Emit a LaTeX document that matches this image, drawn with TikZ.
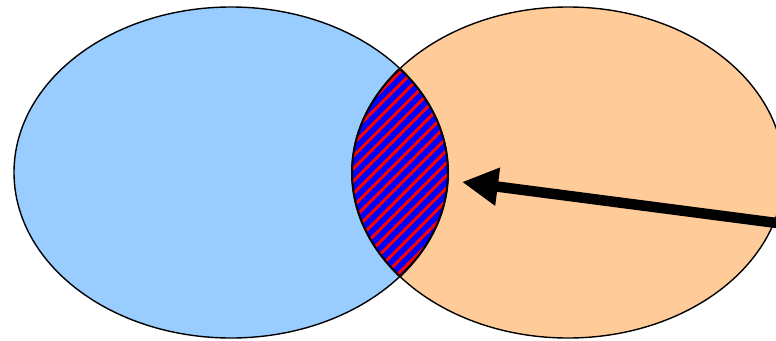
\documentclass[tikz,border=0pt]{standalone}
\usetikzlibrary{arrows.meta}
\definecolor{lblue}{HTML}{99CCFF}
\definecolor{lorange}{HTML}{FFCC99}
\definecolor{hblue}{HTML}{0000FF}
\definecolor{hred}{HTML}{FF0000}
\tikzset{
  outline/.style={draw=black, line width=1.4pt},
  lensline/.style={draw=black, line width=2pt},
  stripe/.style={draw=hred, line width=3pt},
  bigarrow/.style={line width=10.5pt, -{Triangle[length=36pt,width=36pt]}},
}
\begin{document}
\begin{tikzpicture}[x=1pt,y=-1pt]
\useasboundingbox (0,0) rectangle (776,340);
\clip (0,0) rectangle (776,340);
\def\leftell{(231,172.5) ellipse [x radius=217, y radius=165.5]}
\def\rightell{(568,172.5) ellipse [x radius=216, y radius=165.5]}
\fill[lblue] \leftell;
\fill[lorange] \rightell;
\begin{scope}
  \clip \leftell;
  \clip \rightell;
  \fill[hblue] (340,60) rectangle (460,290);
  \foreach \i in {-16,...,16} {
    \draw[stripe] (400+\i*12.5-160,172+160) -- (400+\i*12.5+160,172-160);
  }
\end{scope}
\begin{scope}
  \clip \leftell;
  \draw[lensline] \rightell;
\end{scope}
\begin{scope}
  \clip \rightell;
  \draw[lensline] \leftell;
\end{scope}
\draw[outline] \leftell;
\draw[outline] \rightell;
\coordinate (start) at (792,225);
\coordinate (tip) at (462,182);
\draw[bigarrow] (start) -- (tip);
\end{tikzpicture}
\end{document}
